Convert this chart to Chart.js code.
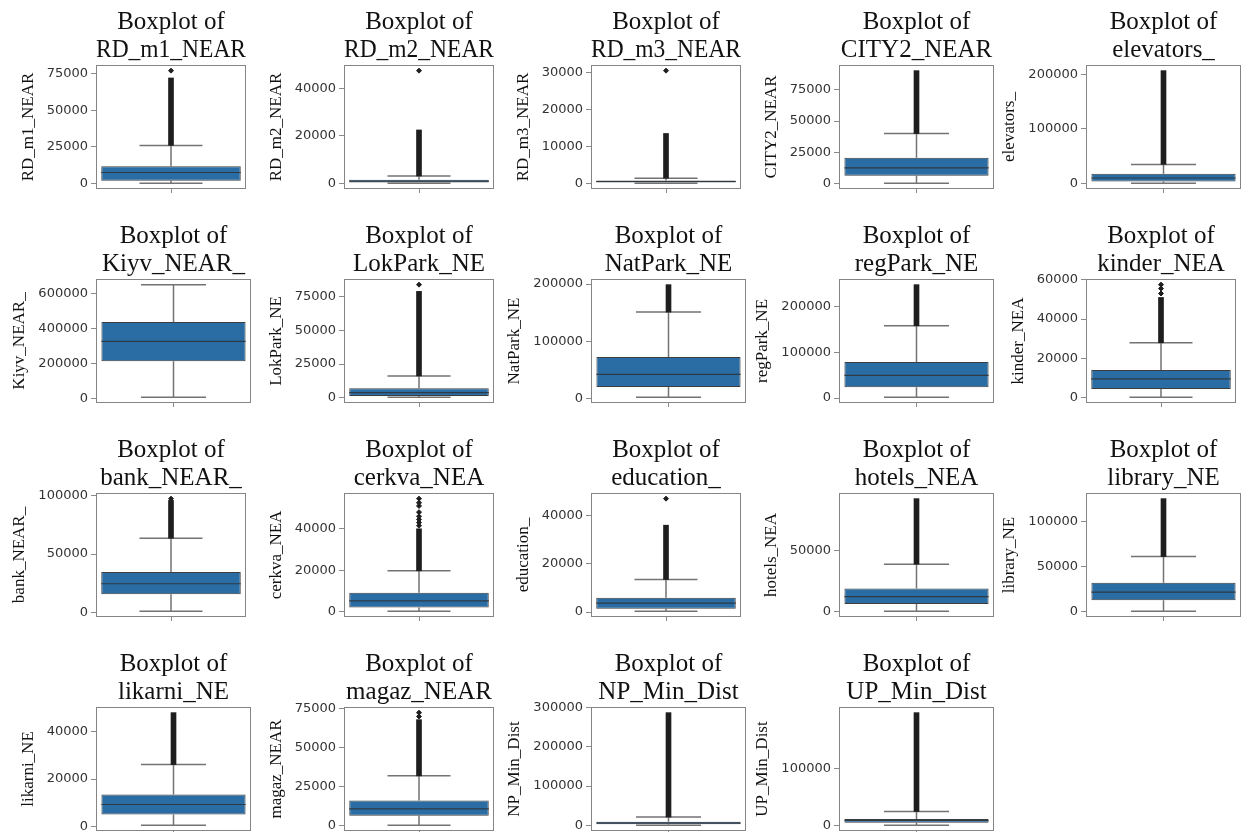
<!DOCTYPE html>
<html>
<head>
<meta charset="utf-8">
<title>Boxplots of distance columns</title>
<script src="https://cdn.jsdelivr.net/npm/chart.js@4.4.0/dist/chart.umd.min.js"></script>
<style>
  html, body { margin: 0; padding: 0; background: #fff; }
  #grid { position: relative; width: 1249px; height: 832px; overflow: hidden; }
  #grid canvas { position: absolute; }
</style>
</head>
<body>
<div id="grid"></div>
<script>
// one boxplot per column
const columns = ['RD_m1_NEAR', 'RD_m2_NEAR', 'RD_m3_NEAR', 'CITY2_NEAR', 'elevators_',
  'Kiyv_NEAR_', 'LokPark_NE', 'NatPark_NE', 'regPark_NE', 'kinder_NEA',
  'bank_NEAR_', 'cerkva_NEA', 'education_', 'hotels_NEA', 'library_NE',
  'likarni_NE', 'magaz_NEAR', 'NP_Min_Dist', 'UP_Min_Dist'];

const lowWhisker = [100, 0, 0, 500, 200, 5000, 300, 2000, 1500, 300,
  800, 300, 300, 200, 500, 500, 300, 0, 0];
const q1 = [1800, 400, 200, 6500, 3600, 212000, 1300, 20000, 23500, 4600,
  15500, 2100, 1400, 6200, 12700, 5100, 6500, 3000, 4500];
const median = [7500, 900, 500, 12800, 10000, 326000, 3800, 42000, 49500, 9700,
  24500, 5300, 3700, 12200, 21800, 9300, 10800, 6000, 8500];
const q3 = [11700, 1500, 800, 20800, 18000, 438000, 7000, 72500, 79000, 14200,
  34500, 9300, 5900, 18900, 32000, 13500, 16200, 9500, 11300];
const highWhisker = [26000, 3100, 1400, 40000, 35000, 652000, 16200, 151000, 158000, 28000,
  63500, 19800, 13500, 38600, 61000, 26100, 32000, 21000, 24300];
// dense run of outliers above the upper whisker (null = no outliers)
const flierTop = [72000, 22500, 13500, 90000, 207000, null, 79000, 199000, 248000, 51000,
  96000, 40000, 36000, 92000, 125000, 48000, 68000, 287000, 198000];
// isolated outliers beyond the dense run
const flierExtra = [[77000], [47500], [30500], [], [], [], [84000], [], [], [53000, 55500, 57500],
  [97500], [41500, 43000, 44500, 46000, 48000, 51000, 52500, 54500], [47000], [], [],
  [], [70000, 72500], [], []];

const yTicks = [
  [0, 25000, 50000, 75000], [0, 20000, 40000], [0, 10000, 20000, 30000], [0, 25000, 50000, 75000], [0, 100000, 200000],
  [0, 200000, 400000, 600000], [0, 25000, 50000, 75000], [0, 100000, 200000], [0, 100000, 200000], [0, 20000, 40000, 60000],
  [0, 50000, 100000], [0, 20000, 40000], [0, 20000, 40000], [0, 50000], [0, 50000, 100000],
  [0, 20000, 40000], [0, 25000, 50000, 75000], [0, 100000, 200000, 300000], [0, 100000]
];

const COLS = 5;
const COL_STEP = 247.5;
const ROW_STEP = 214;
const AXIS_W = 96;
const PLOT_W = 155;
const X_AXIS_H = 25;
const BOX_FRAC = 0.93;
const CAP_FRAC = 0.42;

const boxLines = {
  id: 'boxLines',
  beforeDatasetsDraw(chart, args, opts) {
    const i = opts.idx;
    const {ctx, chartArea: a, scales: {x, y}} = chart;
    const cx = x.getPixelForValue(0);
    const cap = a.width * CAP_FRAC / 2;
    const yLo = y.getPixelForValue(lowWhisker[i]);
    const yHi = y.getPixelForValue(highWhisker[i]);
    ctx.save();
    ctx.strokeStyle = '#737373';
    ctx.lineWidth = 1.5;
    ctx.beginPath();
    ctx.moveTo(cx, y.getPixelForValue(q1[i])); ctx.lineTo(cx, yLo);
    ctx.moveTo(cx, y.getPixelForValue(q3[i])); ctx.lineTo(cx, yHi);
    ctx.moveTo(cx - cap, yLo); ctx.lineTo(cx + cap, yLo);
    ctx.moveTo(cx - cap, yHi); ctx.lineTo(cx + cap, yHi);
    ctx.stroke();
    ctx.restore();
  },
  afterDatasetsDraw(chart, args, opts) {
    const i = opts.idx;
    const {ctx, chartArea: a, scales: {x, y}} = chart;
    const cx = x.getPixelForValue(0);
    const half = a.width * BOX_FRAC / 2;
    const ym = y.getPixelForValue(median[i]);
    ctx.save();
    ctx.strokeStyle = '#2e3a44';
    ctx.lineWidth = 1.2;
    ctx.beginPath();
    ctx.moveTo(cx - half, ym); ctx.lineTo(cx + half, ym);
    ctx.stroke();
    // axes frame
    ctx.strokeStyle = '#858585';
    ctx.lineWidth = 1;
    ctx.strokeRect(a.left + 0.5, a.top + 0.5, a.width - 1, a.height - 1);
    ctx.restore();
  }
};

const grid = document.getElementById('grid');

columns.forEach((name, i) => {
  const col = i % COLS, row = Math.floor(i / COLS);
  const cv = document.createElement('canvas');
  cv.width = AXIS_W + PLOT_W;
  cv.height = ROW_STEP;
  cv.style.left = Math.round(col * COL_STEP) + 'px';
  cv.style.top = (row * ROW_STEP) + 'px';
  grid.appendChild(cv);

  const extras = flierExtra[i];
  const dataMax = Math.max(highWhisker[i], flierTop[i] || 0, ...extras);
  const dataMin = lowWhisker[i];
  const pad = (dataMax - dataMin) * 0.05;
  const digits = Math.max(...yTicks[i].map(v => String(v).length));

  const datasets = [{
    type: 'bar',
    data: [[q1[i], q3[i]]],
    backgroundColor: '#2a6da5',
    borderColor: '#3d3d3d',
    borderWidth: 1,
    borderSkipped: false,
    barPercentage: BOX_FRAC,
    categoryPercentage: 1,
    grouped: false
  }];
  if (flierTop[i] !== null) {
    datasets.push({
      type: 'bar',
      data: [[highWhisker[i], flierTop[i]]],
      backgroundColor: '#1e1e1e',
      barThickness: 5,
      grouped: false
    });
  }
  if (extras.length) {
    datasets.push({
      type: 'line',
      showLine: false,
      data: extras.map(v => ({x: 'v', y: v})),
      pointStyle: 'rectRot',
      pointRadius: 2.5,
      pointBackgroundColor: '#1e1e1e',
      pointBorderColor: '#1e1e1e'
    });
  }

  new Chart(cv, {
    type: 'bar',
    data: {labels: ['v'], datasets},
    plugins: [boxLines],
    options: {
      responsive: false,
      animation: false,
      devicePixelRatio: 1,
      layout: {padding: 0},
      plugins: {
        legend: {display: false},
        tooltip: {enabled: false},
        boxLines: {idx: i},
        title: {
          display: true,
          fullSize: false,
          text: ['Boxplot of', name],
          color: '#111',
          font: {family: 'Liberation Serif', size: 25, weight: 'normal', lineHeight: 1.1},
          padding: {top: 9, bottom: 1}
        }
      },
      scales: {
        x: {
          afterFit: s => { s.height = X_AXIS_H; },
          border: {display: false},
          grid: {drawOnChartArea: false, offset: false, tickLength: 4, color: '#8a8a8a'},
          ticks: {callback: () => ''}
        },
        y: {
          min: dataMin - pad,
          max: dataMax + pad,
          afterBuildTicks: s => { s.ticks = yTicks[i].map(v => ({value: v})); },
          afterFit: s => { s.width = AXIS_W; },
          border: {display: false},
          grid: {drawOnChartArea: false, tickLength: 5, color: '#8a8a8a'},
          ticks: {
            padding: 3,
            color: '#333',
            autoSkip: false,
            font: {family: 'DejaVu Sans', size: 13},
            callback: v => String(v)
          },
          title: {
            display: true,
            text: name,
            color: '#111',
            font: {family: 'Liberation Serif', size: 17, lineHeight: 1.2},
            padding: {top: 59.2 - 8.27 * digits, bottom: 0}
          }
        }
      }
    }
  });
});
</script>
</body>
</html>
